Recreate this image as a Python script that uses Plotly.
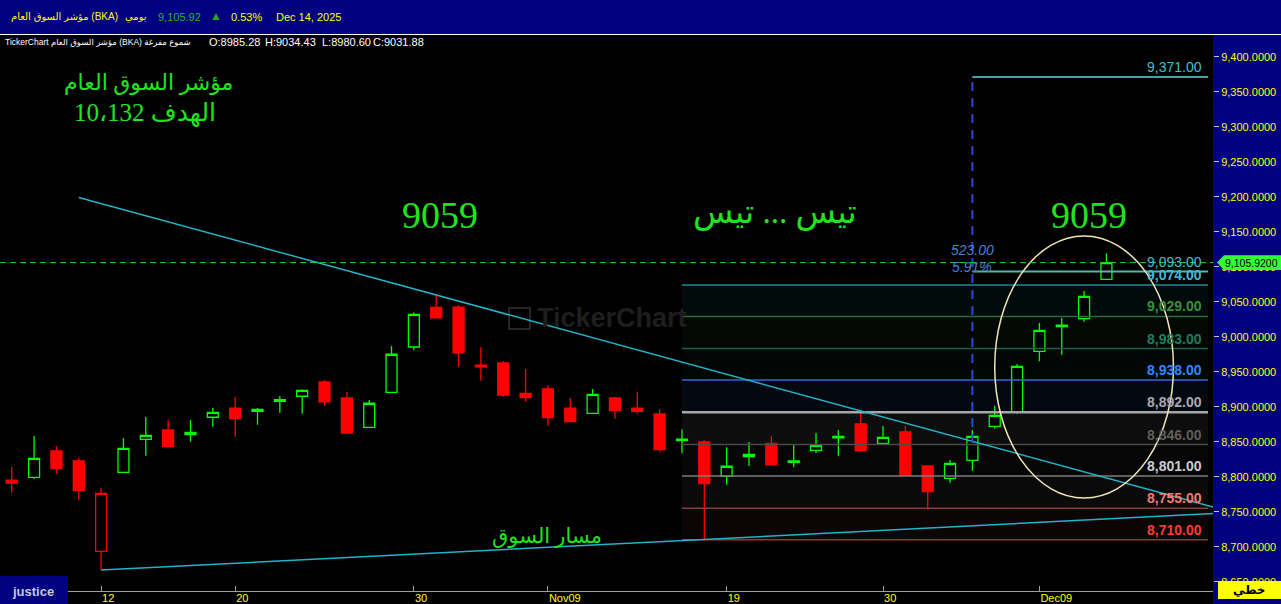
import plotly.graph_objects as go

# ---------------- data ----------------
dates = ["Oct 06", "Oct 07", "Oct 08", "Oct 09",
         "Oct 12", "Oct 13", "Oct 14", "Oct 15", "Oct 16",
         "Oct 19", "Oct 20", "Oct 21", "Oct 22", "Oct 23",
         "Oct 26", "Oct 27", "Oct 28", "Oct 29", "Oct 30",
         "Nov 02", "Nov 03", "Nov 04", "Nov 05", "Nov 06",
         "Nov 09", "Nov 10", "Nov 11", "Nov 12", "Nov 13",
         "Nov 16", "Nov 17", "Nov 18", "Nov 19", "Nov 20",
         "Nov 23", "Nov 24", "Nov 25", "Nov 26", "Nov 27",
         "Nov 30", "Dec 01", "Dec 02", "Dec 03", "Dec 04",
         "Dec 07", "Dec 08", "Dec 09", "Dec 10", "Dec 11",
         "Dec 14"]
opens = [8795.0, 8799.1, 8836.7, 8822.4,
         8693.4, 8806.3, 8853.4, 8866.7, 8860.0,
         8884.9, 8898.1, 8893.4, 8910.0, 8914.9,
         8935.3, 8912.4, 8870.6, 8920.6, 8985.28,
         9042.0, 9042.4, 8959.5, 8962.4, 8919.1,
         8925.3, 8898.1, 8890.6, 8912.4, 8898.1,
         8889.6, 8853.5, 8849.6, 8800.6, 8828.6,
         8847.7, 8822.5, 8837.7, 8857.5, 8875.3,
         8847.7, 8863.9, 8815.3, 8797.7, 8823.4,
         8872.0, 8892.4, 8979.1, 9016.5, 9025.7,
         9082.0]
highs = [8813.9, 8858.1, 8843.9, 8826.7,
         8783.4, 8854.9, 8885.3, 8881.0, 8881.0,
         8898.1, 8913.9, 8898.1, 8915.3, 8924.9,
         8938.1, 8921.0, 8909.6, 8986.7, 9034.43,
         9059.0, 9045.3, 8985.3, 8965.3, 8953.9,
         8930.6, 8912.4, 8925.3, 8914.3, 8921.0,
         8896.7, 8867.7, 8852.0, 8842.0, 8849.6,
         8858.1, 8846.3, 8862.4, 8866.7, 8892.0,
         8872.4, 8872.4, 8816.3, 8823.9, 8866.7,
         8901.4, 8960.6, 9019.6, 9026.7, 9065.3,
         9119.1]
lows = [8777.1, 8796.7, 8804.3, 8767.1,
        8666.7, 8806.3, 8830.0, 8842.9, 8850.0,
        8871.4, 8857.1, 8874.3, 8891.4, 8890.0,
        8901.4, 8862.4, 8870.6, 8920.6, 8980.60,
        9027.1, 8957.1, 8937.1, 8914.3, 8907.1,
        8872.9, 8878.6, 8890.6, 8882.9, 8890.0,
        8835.7, 8833.4, 8710.4, 8788.6, 8815.3,
        8817.1, 8813.9, 8833.9, 8830.0, 8837.1,
        8847.7, 8802.4, 8752.9, 8791.4, 8808.6,
        8868.6, 8890.0, 8964.9, 8974.3, 9021.4,
        9082.0]
closes = [8791.0, 8826.3, 8811.4, 8780.0,
          8776.3, 8840.6, 8859.1, 8842.9, 8863.4,
          8892.0, 8882.9, 8896.3, 8907.5, 8923.4,
          8907.1, 8862.4, 8904.9, 8974.9, 9031.88,
          9027.1, 8977.1, 8957.0, 8916.7, 8912.9,
          8884.3, 8878.6, 8917.7, 8894.3, 8893.4,
          8838.6, 8851.5, 8790.0, 8814.9, 8832.0,
          8817.1, 8820.5, 8844.9, 8855.5, 8837.1,
          8856.3, 8802.4, 8778.6, 8819.1, 8857.7,
          8887.7, 8957.7, 9009.1, 9014.5, 9057.7,
          9105.92]

tick_dates = ["Oct 12", "Oct 20", "Oct 30", "Nov 09", "Nov 19", "Nov 30", "Dec 09"]
tick_labels = ["12", "20", "30", "Nov09", "19", "30", "Dec09"]

# drawing tools
level_start = "Nov 17"
level_values = [8710, 8755, 8801, 8846, 8892, 8938, 8983, 9029, 9074]
level_line_colors = ["#b02a2a", "#8c3b3b", "#7c7c7c", "#4a4a4a", "#a6a6a6",
                     "#2c6bd8", "#1b5e4c", "#2f6b3a", "#1f8a98"]
level_text_colors = ["#ff3a3a", "#f27a7a", "#c8ccd4", "#5e5e5e", "#a8a8b4",
                     "#3384ff", "#1f7d60", "#3d8f3d", "#3cb8dc"]

downtrend_dates = ["Oct 09", "Nov 02"]
downtrend_values = [9199.0, 9059.6]
uptrend_dates = ["Oct 12", "Nov 18"]
uptrend_values = [8666.7, 8710.4]

measure_date = "Dec 04"
measure_low, measure_high = 8848.0, 9371.0
extra_level = 9093.0

ellipse_x = [44.0, 52.0]
ellipse_y = [8769.6, 9143.9]

info_date = "Oct 30"

# ---------------- geometry ----------------
W, H = 1281, 604
ML, MR, MT, MB = 0, 68, 36, 13
PW = W - ML - MR
PH = H - MT - MB
x_range = [-0.526, 53.77]
y_range = [8636.7, 9429.6]

def px_x(px):
    return (px - ML) / PW

def px_y(py):
    return (H - MB - py) / PH

def idx_at_px(px):
    return x_range[0] + (px - ML) / PW * (x_range[1] - x_range[0])

GREEN = "#00ff00"
RED = "#ff0000"
TXT_GREEN = "#1ee51e"
YELLOW = "#ffff00"
NAVY = "#000080"
SANS = "Liberation Sans, DejaVu Sans, sans-serif"
SERIF = "Liberation Serif, DejaVu Sans, serif"

idx = list(range(len(dates)))
pos = {d: i for i, d in enumerate(dates)}
prev = [opens[0]] + closes[:-1]
up_day = [c >= p for c, p in zip(closes, prev)]

fig = go.Figure()
for want, col in ((True, GREEN), (False, RED)):
    xs = [i for i in idx if up_day[i] == want]
    fig.add_trace(go.Candlestick(
        x=xs,
        open=[opens[i] for i in xs], high=[highs[i] for i in xs],
        low=[lows[i] for i in xs], close=[closes[i] for i in xs],
        increasing=dict(line=dict(color=col, width=1.3), fillcolor="#000000"),
        decreasing=dict(line=dict(color=col, width=1.3), fillcolor=col),
        whiskerwidth=0, hoverinfo="skip", showlegend=False))

shapes = []
annots = []

# panels
shapes.append(dict(type="rect", xref="paper", yref="paper", x0=px_x(0), x1=px_x(W),
                   y0=px_y(34), y1=px_y(0), fillcolor=NAVY, line_width=0, layer="below"))
shapes.append(dict(type="line", xref="paper", yref="paper", x0=px_x(0), x1=px_x(W),
                   y0=px_y(34.5), y1=px_y(34.5), line=dict(color="#ffffff", width=1)))
shapes.append(dict(type="rect", xref="paper", yref="paper", x0=px_x(1213), x1=px_x(W),
                   y0=px_y(H), y1=px_y(35), fillcolor=NAVY, line_width=0, layer="below"))

# level bands and lines
x_lvl0 = pos[level_start]
x_lvl1 = idx_at_px(1208)
for k in range(len(level_values) - 1):
    shapes.append(dict(type="rect", xref="x", yref="y", x0=x_lvl0, x1=x_lvl1,
                       y0=level_values[k], y1=level_values[k + 1],
                       fillcolor=level_line_colors[k + 1], opacity=0.08,
                       line_width=0, layer="below"))
for v, lc, tc in zip(level_values, level_line_colors, level_text_colors):
    shapes.append(dict(type="line", xref="x", yref="y", x0=x_lvl0, x1=x_lvl1, y0=v, y1=v,
                       line=dict(color=lc, width=2.5 if v == 8892 else 1.5)))
    annots.append(dict(text=f"<b>{v:,.2f}</b>", xref="paper", yref="y", x=px_x(1204), y=v,
                       xanchor="right", yanchor="bottom", showarrow=False,
                       font=dict(size=14, color=tc, family=SANS)))

# trend lines extended to the right edge
for dts, vals in ((downtrend_dates, downtrend_values), (uptrend_dates, uptrend_values)):
    xa, xb = pos[dts[0]], pos[dts[1]]
    slope = (vals[1] - vals[0]) / (xb - xa)
    xe = x_range[1]
    shapes.append(dict(type="line", xref="x", yref="y", x0=xa, y0=vals[0],
                       x1=xe, y1=vals[0] + slope * (xe - xa),
                       line=dict(color="#21b3c9", width=1.5)))

# measurement tool
xm = pos[measure_date]
shapes.append(dict(type="line", xref="x", yref="y", x0=xm, x1=xm, y0=measure_low, y1=measure_high,
                   line=dict(color="#2050d0", width=2, dash="9px,7px")))
shapes.append(dict(type="line", xref="x", yref="y", x0=xm, x1=x_lvl1, y0=measure_high, y1=measure_high,
                   line=dict(color="#3aa8a8", width=2)))
shapes.append(dict(type="line", xref="x", yref="y", x0=xm, x1=x_lvl1, y0=extra_level, y1=extra_level,
                   line=dict(color="#5ab4a8", width=2)))
annots.append(dict(text=f"{measure_high:,.2f}", xref="paper", yref="y", x=px_x(1204), y=measure_high,
                   xanchor="right", yanchor="bottom", showarrow=False,
                   font=dict(size=14, color="#3fc0d0", family=SANS)))
annots.append(dict(text=f"{extra_level:,.2f}", xref="paper", yref="y", x=px_x(1204), y=extra_level,
                   xanchor="right", yanchor="bottom", showarrow=False,
                   font=dict(size=14, color="#3fc0d0", family=SANS)))
diff = measure_high - measure_low
annots.append(dict(text=f"<i>{diff:.2f}</i>", xref="x", yref="y", x=xm, y=extra_level,
                   xanchor="center", yanchor="middle", yshift=22, showarrow=False,
                   font=dict(size=14, color="#4a80d8", family=SANS)))
annots.append(dict(text=f"<i>{diff / measure_low * 100:.2f}%</i>", xref="x", yref="y", x=xm,
                   y=extra_level, xanchor="center", yanchor="middle", yshift=5, showarrow=False,
                   font=dict(size=14, color="#4a80d8", family=SANS)))

# ellipse
shapes.append(dict(type="circle", xref="x", yref="y", x0=ellipse_x[0], x1=ellipse_x[1],
                   y0=ellipse_y[0], y1=ellipse_y[1], line=dict(color="#efe6b8", width=1.5)))

# last price line + label
last = closes[-1]
shapes.append(dict(type="line", xref="paper", yref="y", x0=0, x1=1, y0=last, y1=last,
                   line=dict(color="#22cc22", width=1, dash="6px,4px")))
x_a, x_b, x_c = px_x(1217), px_x(1224), px_x(W)
shapes.append(dict(type="path", xref="paper", yref="y",
                   path=f"M {x_a} {last} L {x_b} {last + 10.5} L {x_c} {last + 10.5} "
                        f"L {x_c} {last - 10.5} L {x_b} {last - 10.5} Z",
                   fillcolor="#33ff33", line_width=0))
annots.append(dict(text=f"{last:,.4f}", xref="paper", yref="y", x=px_x(1224), y=last,
                   xanchor="left", yanchor="middle", showarrow=False, borderpad=0,
                   font=dict(size=10.5, color="#000000", family=SANS)))

# watermark
shapes.append(dict(type="rect", xref="paper", yref="paper", x0=px_x(509), x1=px_x(530),
                   y0=px_y(329), y1=px_y(308), line=dict(color="#262626", width=2), layer="below"))
annots.append(dict(text="<b>TickerChart</b>", xref="paper", yref="paper", x=px_x(535), y=px_y(318),
                   xanchor="left", yanchor="middle", showarrow=False,
                   font=dict(size=27, color="#1e1e1e", family=SANS)))

# bottom boxes
shapes.append(dict(type="rect", xref="paper", yref="paper", x0=px_x(0), x1=px_x(68),
                   y0=px_y(H), y1=px_y(576), fillcolor=NAVY, line_width=0))
annots.append(dict(text="<b>justice</b>", xref="paper", yref="paper", x=px_x(33), y=px_y(591),
                   xanchor="center", yanchor="middle", showarrow=False,
                   font=dict(size=13, color="#c8c8d8", family=SANS)))
shapes.append(dict(type="rect", xref="paper", yref="paper", x0=px_x(1218), x1=px_x(W),
                   y0=px_y(599), y1=px_y(581), fillcolor=YELLOW, line_width=0))
annots.append(dict(text="<b>خطي</b>", xref="paper", yref="paper", x=px_x(1249), y=px_y(590),
                   xanchor="center", yanchor="middle", showarrow=False,
                   font=dict(size=12, color="#000000", family=SANS)))

# header
def head(text, x, y, color, size=11):
    annots.append(dict(text=text, xref="paper", yref="paper", x=px_x(x), y=px_y(y),
                       xanchor="left", yanchor="middle", showarrow=False,
                       font=dict(size=size, color=color, family=SANS)))

chg = (closes[-1] / closes[-2] - 1) * 100
head("مؤشر السوق العام (BKA)", 9, 17, YELLOW, 10)
head("يومي", 123, 17, YELLOW, 10)
head(f"{last:,.2f}", 156, 17, "#2ab52a", 11)
head("▲", 208, 16, "#1faa1f", 12)
head(f"{chg:.2f}%", 229, 17, YELLOW, 11)
head("Dec 14, 2025", 274, 17, YELLOW, 11)
k = pos[info_date]
head("TickerChart مؤشر السوق العام (BKA) شموع مفرغة", 3, 42.5, "#ffffff", 8.5)
head(f"O:{opens[k]:.2f}", 207, 42.5, "#ffffff", 11)
head(f"H:{highs[k]:.2f}", 263, 42.5, "#ffffff", 11)
head(f"L:{lows[k]:.2f}", 320, 42.5, "#ffffff", 11)
head(f"C:{closes[k]:.2f}", 371, 42.5, "#ffffff", 11)

# chart texts
def ctext(text, x, y, size, family=SERIF):
    annots.append(dict(text=text, xref="paper", yref="paper", x=px_x(x), y=px_y(y),
                       xanchor="center", yanchor="middle", showarrow=False,
                       font=dict(size=size, color=TXT_GREEN, family=family)))

ctext("مؤشر السوق العام", 148, 82, 22)
ctext("الهدف 10،132", 145, 113, 25)
ctext("9059", 440, 215, 38)
ctext("تيس ... تيس", 775, 212, 33)
ctext("9059", 1089, 215, 38)
ctext("مسار السوق", 547, 536, 21)

fig.update_layout(
    width=W, height=H,
    margin=dict(l=ML, r=MR, t=MT, b=MB, autoexpand=False),
    paper_bgcolor="#000000", plot_bgcolor="#000000",
    font=dict(family=SANS),
    showlegend=False,
    shapes=shapes, annotations=annots,
    xaxis=dict(range=x_range, rangeslider=dict(visible=False), showgrid=False, zeroline=False,
               showline=True, linecolor="#a0a0a0", linewidth=1,
               tickmode="array", tickvals=[pos[d] for d in tick_dates], ticktext=tick_labels,
               ticks="inside", ticklen=5, tickcolor="#a0a0a0",
               ticklabelposition="outside right", ticklabelstandoff=-3,
               tickfont=dict(size=11, color=YELLOW, family=SANS)),
    yaxis=dict(range=y_range, side="right", showgrid=False, zeroline=False, showline=False,
               dtick=50, tick0=0, tickformat=",.4f", ticks="outside", ticklen=5,
               tickcolor="#c8c8c8", tickfont=dict(size=11, color=YELLOW, family=SANS)),
)

fig.write_html("out.html", config={"displayModeBar": False},
               post_script="document.body.style.margin='0';document.body.style.background='#000';")
